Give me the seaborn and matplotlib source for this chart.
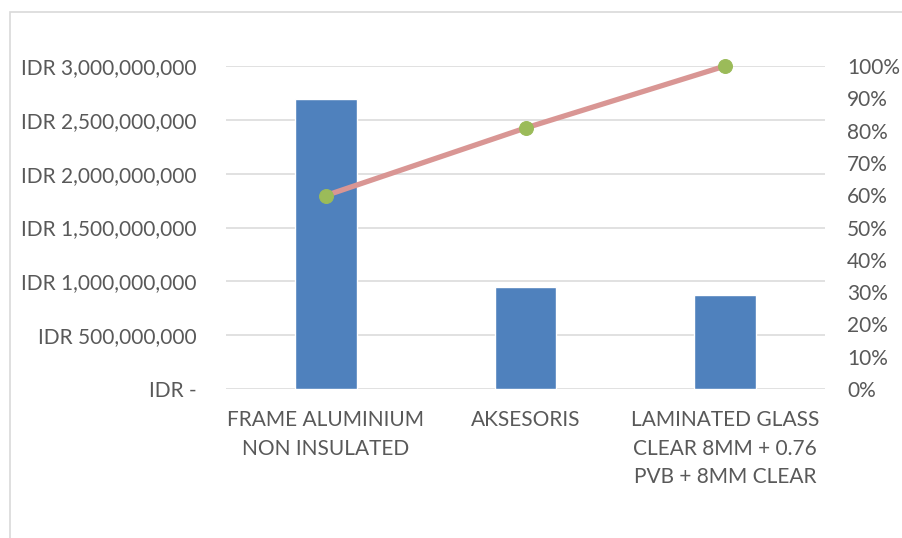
import pandas as pd
import matplotlib
matplotlib.use("Agg")
import matplotlib.pyplot as plt
import seaborn as sns
from matplotlib.ticker import FuncFormatter, MultipleLocator
from matplotlib.patches import Rectangle

# data
categories = ["FRAME ALUMINIUM\nNON INSULATED", "AKSESORIS",
              "LAMINATED GLASS\nCLEAR 8MM + 0.76\nPVB + 8MM CLEAR"]
biaya = [2695000000, 945000000, 870000000]
kumulatif = [0.599, 0.808, 1.0]

df = pd.DataFrame({"item": categories, "biaya": biaya, "kum": kumulatif})

sns.set_style("white")
plt.rcParams["font.family"] = ["Lato", "DejaVu Sans"]
teks = "#595959"

fig = plt.figure(figsize=(9.02, 5.38), dpi=100)
ax = fig.add_axes([226/902, 1-389/538, (825-226)/902, (389-66)/538])

# bingkai chart (terpotong di kanan dan bawah)
fig.patches.append(Rectangle((10/902, -0.1), 1.2, 1-12/538+0.1, transform=fig.transFigure,
                             fill=False, edgecolor="#D9D9D9", linewidth=1.2))

sns.barplot(data=df, x="item", y="biaya", color="#4F81BD", saturation=1,
            width=0.31, ax=ax, zorder=2)
ax.set_ylim(0, 3000000000)
ax.set_xlim(-0.5, 2.5)
ax.yaxis.set_major_locator(MultipleLocator(500000000))
ax.yaxis.set_major_formatter(FuncFormatter(
    lambda v, p: "IDR -" if v == 0 else "IDR {:,.0f}".format(v)))
ax.grid(axis="y", color="#D9D9D9", linewidth=1.1, zorder=0)
ax.set_axisbelow(True)
ax.set_xlabel("")
ax.set_ylabel("")
for s in ax.spines.values():
    s.set_visible(False)
ax.tick_params(axis="y", length=0, pad=21, labelsize=15, labelcolor=teks)
ax.tick_params(axis="x", length=0, pad=15, labelsize=15, labelcolor=teks)
for lbl in ax.get_xticklabels():
    lbl.set_linespacing(1.55)

ax2 = ax.twinx()
sns.lineplot(x=[0, 1, 2], y=df["kum"], ax=ax2, color="#D99694", linewidth=3.8,
             sort=False, marker="o", markersize=10, markerfacecolor="#9BBB59",
             markeredgecolor="#9BBB59", zorder=3, clip_on=False)
ax2.set_ylim(0, 1)
ax2.set_xlim(-0.5, 2.5)
ax2.yaxis.set_major_locator(MultipleLocator(0.1))
ax2.yaxis.set_major_formatter(FuncFormatter(lambda v, p: "{:.0f}%".format(v*100)))
ax2.set_ylabel("")
for s in ax2.spines.values():
    s.set_visible(False)
ax2.tick_params(axis="y", length=0, pad=16, labelsize=15, labelcolor=teks)

fig.savefig("out.png", dpi=100)
